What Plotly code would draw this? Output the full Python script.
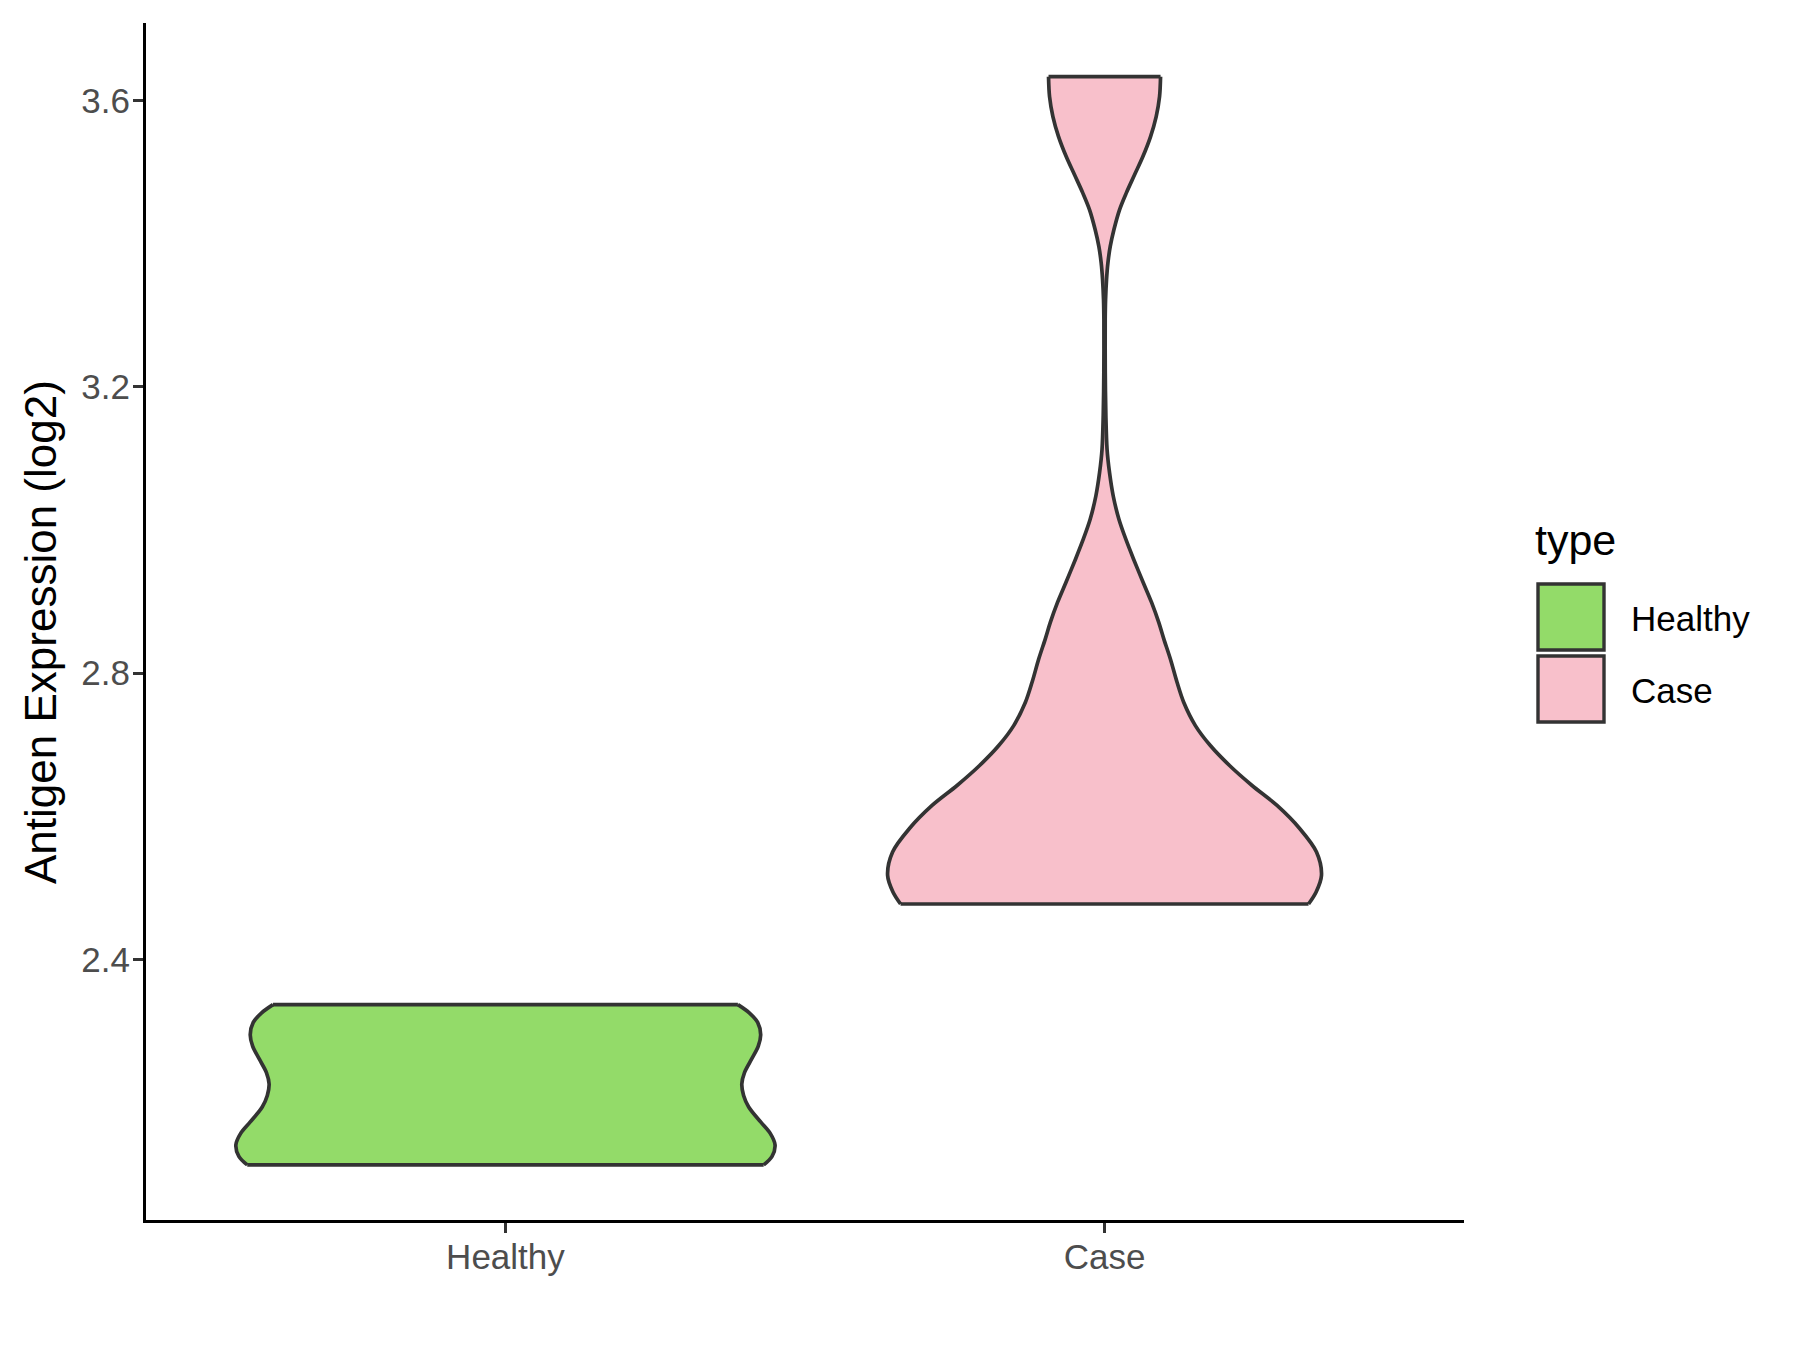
import numpy as np
import plotly.graph_objects as go

# ---------------- data ----------------
categories = ["Healthy", "Case"]

# violin outlines: expression level and half-width (in category units)
healthy_y = [2.113, 2.125, 2.141, 2.157, 2.173, 2.194, 2.210, 2.226,
             2.242, 2.261, 2.279, 2.295, 2.312, 2.3255, 2.337]
healthy_halfwidth = [0.431, 0.445, 0.450, 0.442, 0.426, 0.406, 0.3975, 0.3945,
                     0.399, 0.411, 0.422, 0.426, 0.421, 0.407, 0.388]

case_y = [2.4775, 2.4944, 2.5176, 2.5502, 2.5827, 2.6152, 2.6431, 2.6710,
          2.6989, 2.7268, 2.7594, 2.7873, 2.8198, 2.8477, 2.8710, 2.8989,
          2.9268, 2.9593, 2.9872, 3.0151, 3.0476, 3.0803, 3.1128, 3.16,
          3.22, 3.2941, 3.3220, 3.3499, 3.3732, 3.3963, 3.4196, 3.4475,
          3.4708, 3.4964, 3.5219, 3.5498, 3.5777, 3.6056, 3.6335]
case_halfwidth = [0.3405, 0.3532, 0.3621, 0.3538, 0.3260, 0.2879, 0.2462, 0.2086,
                  0.1766, 0.1516, 0.1321, 0.1210, 0.1099, 0.0990, 0.0905, 0.0785,
                  0.0645, 0.0485, 0.0355, 0.0240, 0.0145, 0.0083, 0.0042, 0.0022,
                  0.0012, 0.0011, 0.0017, 0.0033, 0.0056, 0.0095, 0.0156, 0.0250,
                  0.0362, 0.0501, 0.0640, 0.0768, 0.0862, 0.0918, 0.0935]

y_tick_values = [2.4, 2.8, 3.2, 3.6]
y_tick_labels = ["2.4", "2.8", "3.2", "3.6"]

legend_title = "type"
y_title = "Antigen Expression (log2)"

# ---------------- styling ----------------
fill_colors = {"Healthy": "#93DB69", "Case": "#F8C0CB"}
outline = "#333333"
FONT = "Liberation Sans, Arial, sans-serif"

W, H = 1800, 1350
OFF = 8  # default page body margin
L, R, T, B = 146 - OFF, 1464 - OFF, 23 - OFF, 1220 - OFF  # panel in figure px


def px_x(p):
    return (p - OFF - L) / (R - L)


def px_y(p):
    return (B - (p - OFF)) / (B - T)


fig = go.Figure()

profiles = {"Healthy": (healthy_y, healthy_halfwidth),
            "Case": (case_y, case_halfwidth)}

for i, cat in enumerate(categories):
    ys, hw = profiles[cat]
    ys = np.asarray(ys, dtype=float)
    hw = np.asarray(hw, dtype=float)
    left = i - hw
    right = i + hw
    # filled body
    fig.add_trace(go.Scatter(
        x=np.concatenate([left, right[::-1]]),
        y=np.concatenate([ys, ys[::-1]]),
        mode="lines", fill="toself", fillcolor=fill_colors[cat],
        line=dict(width=0, color=fill_colors[cat]),
        name=cat, showlegend=False, hoverinfo="skip"))
    # outline: smooth sides, straight top and bottom
    ox = (list(left) + [None] + list(right) + [None]
          + [left[-1], right[-1]] + [None] + [left[0], right[0]])
    oy = (list(ys) + [None] + list(ys) + [None]
          + [ys[-1], ys[-1]] + [None] + [ys[0], ys[0]])
    fig.add_trace(go.Scatter(
        x=ox, y=oy, mode="lines", connectgaps=False,
        line=dict(color=outline, width=3.7, shape="spline", smoothing=0.9),
        showlegend=False, hoverinfo="skip"))

fig.update_layout(
    width=W, height=H, autosize=False,
    margin=dict(l=L, r=W - R, t=T, b=H - B, pad=0),
    paper_bgcolor="white", plot_bgcolor="white",
    font=dict(family=FONT, color="black"),
    showlegend=False,
)

fig.update_xaxes(
    range=[-0.6, 1.6], tickmode="array", tickvals=list(range(len(categories))),
    ticktext=categories, showgrid=False, zeroline=False,
    showline=True, linecolor="black", linewidth=3.2,
    ticks="outside", ticklen=10, tickwidth=3, tickcolor=outline,
    tickfont=dict(size=35, color="#4D4D4D", family=FONT),
    ticklabelstandoff=-6,
)
fig.update_yaxes(
    range=[2.036, 3.7085], tickmode="array", tickvals=y_tick_values,
    ticktext=y_tick_labels, showgrid=False, zeroline=False,
    showline=True, linecolor="black", linewidth=3.2,
    ticks="outside", ticklen=10, tickwidth=3, tickcolor=outline,
    tickfont=dict(size=35, color="#4D4D4D", family=FONT),
    ticklabelstandoff=-4,
)

# y axis title
fig.add_annotation(text=y_title, xref="paper", yref="paper",
                   x=px_x(40), y=px_y(632), xanchor="center", yanchor="middle",
                   textangle=-90, showarrow=False,
                   font=dict(size=44, color="black", family=FONT))

# ---------------- legend (drawn manually to match ggplot keys) ----------------
fig.add_annotation(text=legend_title, xref="paper", yref="paper",
                   x=px_x(1533), y=px_y(540), xanchor="left", yanchor="middle",
                   showarrow=False, font=dict(size=43, color="black", family=FONT))
key_top = [584, 656]
for k, cat in enumerate(categories):
    y0 = key_top[k]
    fig.add_shape(type="rect", xref="paper", yref="paper",
                  x0=px_x(1538), x1=px_x(1604), y0=px_y(y0), y1=px_y(y0 + 66),
                  fillcolor=fill_colors[cat], line=dict(color=outline, width=3.4))
    fig.add_annotation(text=cat, xref="paper", yref="paper",
                       x=px_x(1629), y=px_y(y0 + 34), xanchor="left",
                       yanchor="middle", showarrow=False,
                       font=dict(size=35, color="black", family=FONT))

fig.write_html("out.html")
